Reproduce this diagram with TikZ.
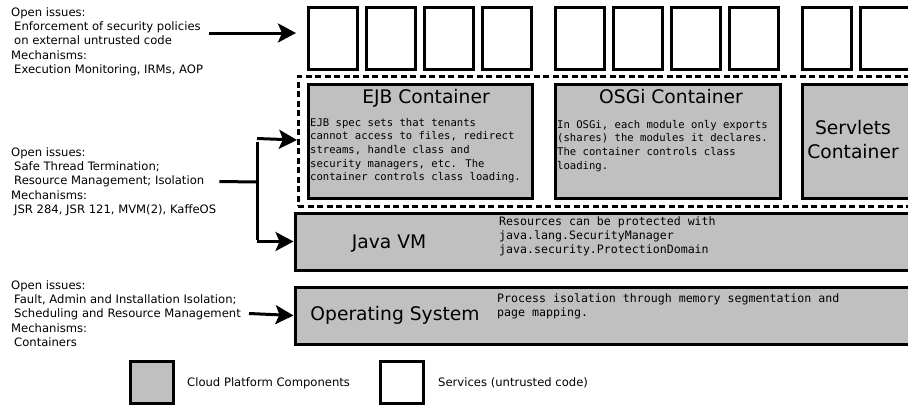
\documentclass[tikz,border=0pt]{standalone}
\usepackage{fontspec}
\newfontfamily\labelfont{DejaVu Sans}
\newfontfamily\codefont{DejaVu Sans Mono}
\usetikzlibrary{arrows.meta}
\definecolor{platformgray}{RGB}{192,192,192}

\begin{document}
\begin{tikzpicture}[x=1pt,y=-1pt,
    comp/.style={draw,line width=3pt,fill=platformgray,inner sep=0pt,anchor=north west},
    service/.style={draw,line width=3pt,fill=white,inner sep=0pt,anchor=north west,minimum width=49pt,minimum height=62pt},
    issues/.style={align=left,inner sep=0pt,anchor=west,font=\labelfont\fontsize{11.6}{14.3}\selectfont},
    heading/.style={inner sep=0pt,font=\labelfont\fontsize{18.7}{24}\selectfont},
    smallcode/.style={align=left,inner sep=0pt,anchor=north west,font=\codefont\fontsize{10.6}{13.6}\selectfont},
    bigcode/.style={align=left,inner sep=0pt,anchor=north west,font=\codefont\fontsize{11.6}{14.3}\selectfont},
    legend/.style={inner sep=0pt,anchor=west,font=\labelfont\fontsize{11.6}{14}\selectfont},
    link/.style={line width=3pt},
    flow/.style={line width=3pt,-{Stealth[length=18pt,width=19pt,inset=4pt]}}]
    \useasboundingbox (0,0) rectangle (908,407);
    \clip (0,0) rectangle (908,407);

    % services (untrusted code)
    \foreach \i in {0,...,3}{
        \node[service] (svca\i) at ({306.5+\i*58.33},5.5) {};
        \node[service] (svcb\i) at ({553.5+\i*58.33},5.5) {};
    }
    \node[service] (svcc0) at (800.5,5.5) {};
    \node[service] (svcc1) at (858.8,5.5) {};

    % containers
    \node[draw,line width=2.8pt,dash pattern=on 6pt off 3.5pt,anchor=north west,inner sep=0pt,
        minimum width=640pt,minimum height=130pt] (cont) at (297,75) {};
    \node[comp,minimum width=224pt,minimum height=114pt] (ejb) at (306.5,82.5) {};
    \node[comp,minimum width=225pt,minimum height=114pt] (osgi) at (553.5,82.5) {};
    \node[comp,minimum width=150pt,minimum height=114pt] (servlets) at (800.5,82.5) {};

    \node[heading,anchor=base] (ejbtitle) at (426,103) {EJB Container};
    \node[smallcode] (ejbtext) at (310,118) {EJB spec sets that tenants\\cannot access to files, redirect\\streams, handle class and\\security managers, etc. The\\container controls class loading.};
    \node[heading,anchor=base] (osgititle) at (671,103) {OSGi Container};
    \node[smallcode] (osgitext) at (557,120) {In OSGi, each module only exports\\(shares) the modules it declares.\\The container controls class\\loading.};
    \node[heading,align=center] (servletstitle) at (853,140) {Servlets\\Container};

    % platform layers
    \node[comp,minimum width=640pt,minimum height=57pt] (jvm) at (293.5,211.5) {};
    \node[heading,anchor=base] (jvmtitle) at (389,248) {Java VM};
    \node[bigcode] (jvmtext) at (499,216) {Resources can be protected with\\java.lang.SecurityManager\\java.security.ProtectionDomain};

    \node[comp,minimum width=640pt,minimum height=57pt] (os) at (293.5,285.5) {};
    \node[heading,anchor=base] (ostitle) at (395,320) {Operating System};
    \node[bigcode] (ostext) at (497,293) {Process isolation through memory segmentation and\\page mapping.};

    % open issues
    \node[issues] (issues1) at (11,41.5) {Open issues:\\\hspace*{3pt}Enforcement of security policies\\\hspace*{3pt}on external untrusted code\\Mechanisms:\\\hspace*{3pt}Execution Monitoring, IRMs, AOP};
    \node[issues] (issues2) at (11,181.5) {Open issues:\\\hspace*{3pt}Safe Thread Termination;\\\hspace*{3pt}Resource Management; Isolation\\Mechanisms:\\\hspace*{3pt}JSR 284, JSR 121, MVM(2), KaffeOS};
    \node[issues] (issues3) at (11,313.5) {Open issues:\\\hspace*{3pt}Fault, Admin and Installation Isolation;\\\hspace*{3pt}Scheduling and Resource Management\\Mechanisms:\\\hspace*{3pt}Containers};

    \coordinate (svcin) at (296,33);
    \coordinate (split) at (257,182);
    \coordinate (contin) at (297,140);
    \draw[flow] ([xshift=6pt]issues1.east |- svcin) -- (svcin);
    \draw[link] ([xshift=3pt]issues2.east) -- (split);
    \draw[flow] ([yshift=1.5pt]split |- contin) -- (contin);
    \draw[link] ([yshift=-1.5pt]split |- contin) -- ([yshift=1.5pt]split |- jvm.west);
    \draw[flow] (split |- jvm.west) -- (jvm.west);
    \draw[flow] ([xshift=8pt]issues3.east) -- (os.west);

    % legend
    \node[comp,minimum width=43pt,minimum height=42pt] (keycomp) at (128.5,359.5) {};
    \node[legend] (keycomptext) at (187,383) {Cloud Platform Components};
    \node[service,minimum width=43pt,minimum height=42pt] (keysvc) at (378.5,359.5) {};
    \node[legend] (keysvctext) at (438,383) {Services (untrusted code)};
\end{tikzpicture}
\end{document}
